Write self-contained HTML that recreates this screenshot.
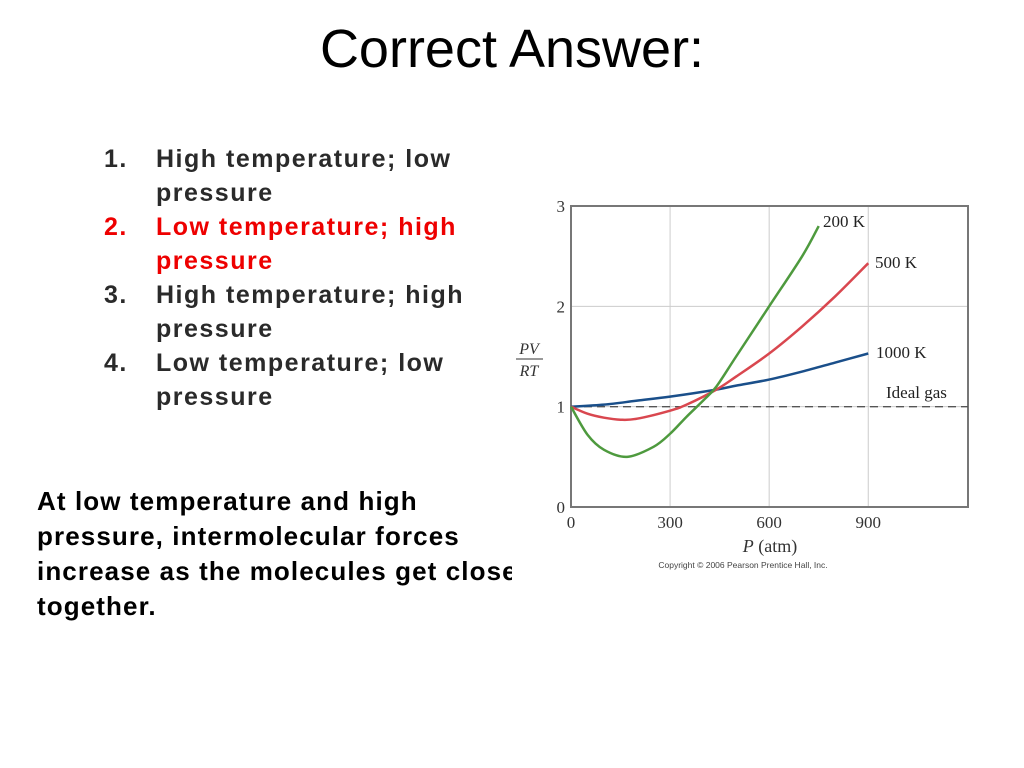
<!DOCTYPE html>
<html><head><meta charset="utf-8"><style>
body{margin:0;width:1024px;height:768px;background:#fff;position:relative;overflow:hidden;font-family:"Liberation Sans",Arial,sans-serif}
.t{position:absolute;left:0;width:1024px;top:18px;text-align:center;font-size:54px;color:#000}
ol{position:absolute;left:104px;top:142px;margin:0;padding:0;list-style:none;font-weight:bold;font-size:25px;letter-spacing:1.5px;line-height:34px;color:#2a2a2a}
li{position:relative;padding-left:52px;width:340px}
li span{position:absolute;left:0}
li.red{color:#e00}
.note{position:absolute;left:37px;top:484px;font-weight:bold;font-size:26px;letter-spacing:1.1px;line-height:35px;width:500px;white-space:nowrap}
svg{position:absolute;left:0;top:0}
</style></head><body>
<div class="t">Correct Answer:</div>
<ol>
<li><span>1.</span>High temperature; low pressure</li>
<li class="red"><span>2.</span>Low temperature; high pressure</li>
<li><span>3.</span>High temperature; high pressure</li>
<li><span>4.</span>Low temperature; low pressure</li>
</ol>
<div class="note">At low temperature and high<br>pressure, intermolecular forces<br>increase as the molecules get closer<br>together.</div>
<svg width="1024" height="768" id="c"></svg>
<script>
const xTicks=[0,300,600,900];
const yTicks=[0,1,2,3];
const p200=[0,50,100,170,250,300,350,400,440,500,600,700,750];
const v200=[1,0.72,0.57,0.5,0.6,0.73,0.9,1.06,1.2,1.5,2.0,2.5,2.8];
const p500=[0,50,100,150,200,300,350,440,500,600,700,800,900];
const v500=[1,0.93,0.89,0.87,0.88,0.96,1.02,1.17,1.3,1.53,1.8,2.1,2.43];
const p1000=[0,100,200,300,440,500,600,700,800,900];
const v1000=[1,1.02,1.06,1.1,1.17,1.21,1.27,1.35,1.44,1.53];
const X0=571,Y0=507,X1=968,Y1=206,PMAX=1202,VMAX=3;
const sx=p=>X0+p/PMAX*(X1-X0), sy=v=>Y0-v/VMAX*(Y0-Y1);
const s=document.getElementById('c'),NS='http://www.w3.org/2000/svg';
function mk(t,a,txt){const e=document.createElementNS(NS,t);for(const k in a)e.setAttribute(k,a[k]);if(txt!=null)e.textContent=txt;s.appendChild(e);return e;}
const bg=mk('rect',{x:512,y:190,width:480,height:390,fill:'#fff'});

const serif='"Liberation Serif",serif';
xTicks.forEach(p=>{if(p>0){const g=mk('line',{x1:sx(p),x2:sx(p),y1:Y1,y2:Y0,stroke:'#ccc'});}
const t=mk('text',{x:sx(p),y:528,'text-anchor':'middle','font-family':serif,'font-size':17,fill:'#333'},p);});
yTicks.forEach(v=>{if(v>0&&v<3){const g=mk('line',{x1:X0,x2:X1,y1:sy(v),y2:sy(v),stroke:'#ccc'});}
const t=mk('text',{x:565,y:sy(v)+6,'text-anchor':'end','font-family':serif,'font-size':17,fill:'#333'},v);});
const fr=mk('rect',{x:X0,y:Y1,width:X1-X0,height:Y0-Y1,fill:'none',stroke:'#777','stroke-width':2});

const id=mk('line',{x1:X0,x2:X1,y1:sy(1),y2:sy(1),stroke:'#555','stroke-width':1.3,'stroke-dasharray':'8,5'});

function curve(P,V){const pts=P.map((p,i)=>[sx(p),sy(V[i])]);let d='M'+pts[0];for(let i=0;i<pts.length-1;i++){const a=pts[i-1]||pts[i],b=pts[i],c=pts[i+1],e=pts[i+2]||c;d+=' C'+(b[0]+(c[0]-a[0])/6)+','+(b[1]+(c[1]-a[1])/6)+' '+(c[0]-(e[0]-b[0])/6)+','+(c[1]-(e[1]-b[1])/6)+' '+c[0]+','+c[1];}return d;}
const s1=mk('path',{d:curve(p1000,v1000),fill:'none',stroke:'#1a4f8a','stroke-width':2.5});

const s2=mk('path',{d:curve(p500,v500),fill:'none',stroke:'#d9474f','stroke-width':2.5});

const s3=mk('path',{d:curve(p200,v200),fill:'none',stroke:'#4e9a3e','stroke-width':2.5});

const labs=[['200 K',823,227],['500 K',875,268],['1000 K',876,358],['Ideal gas',886,398]];
labs.forEach(l=>{const t=mk('text',{x:l[1],y:l[2],'font-family':serif,'font-size':17,fill:'#222'},l[0]);});
const a=mk('text',{x:529,y:354,'text-anchor':'middle','font-family':serif,'font-size':16,'font-style':'italic',fill:'#333'},'PV');
const ln=mk('line',{x1:516,x2:543,y1:359,y2:359,stroke:'#333'});
const b=mk('text',{x:529,y:376,'text-anchor':'middle','font-family':serif,'font-size':16,'font-style':'italic',fill:'#333'},'RT');
const xt=mk('text',{x:770,y:552,'text-anchor':'middle','font-family':serif,'font-size':18,fill:'#333'});
xt.innerHTML='<tspan font-style="italic">P</tspan> (atm)';
const cp=mk('text',{x:743,y:568,'text-anchor':'middle','font-family':'"Liberation Sans",sans-serif','font-size':8.5,fill:'#444'},'Copyright © 2006 Pearson Prentice Hall, Inc.');
</script>
</body></html>
